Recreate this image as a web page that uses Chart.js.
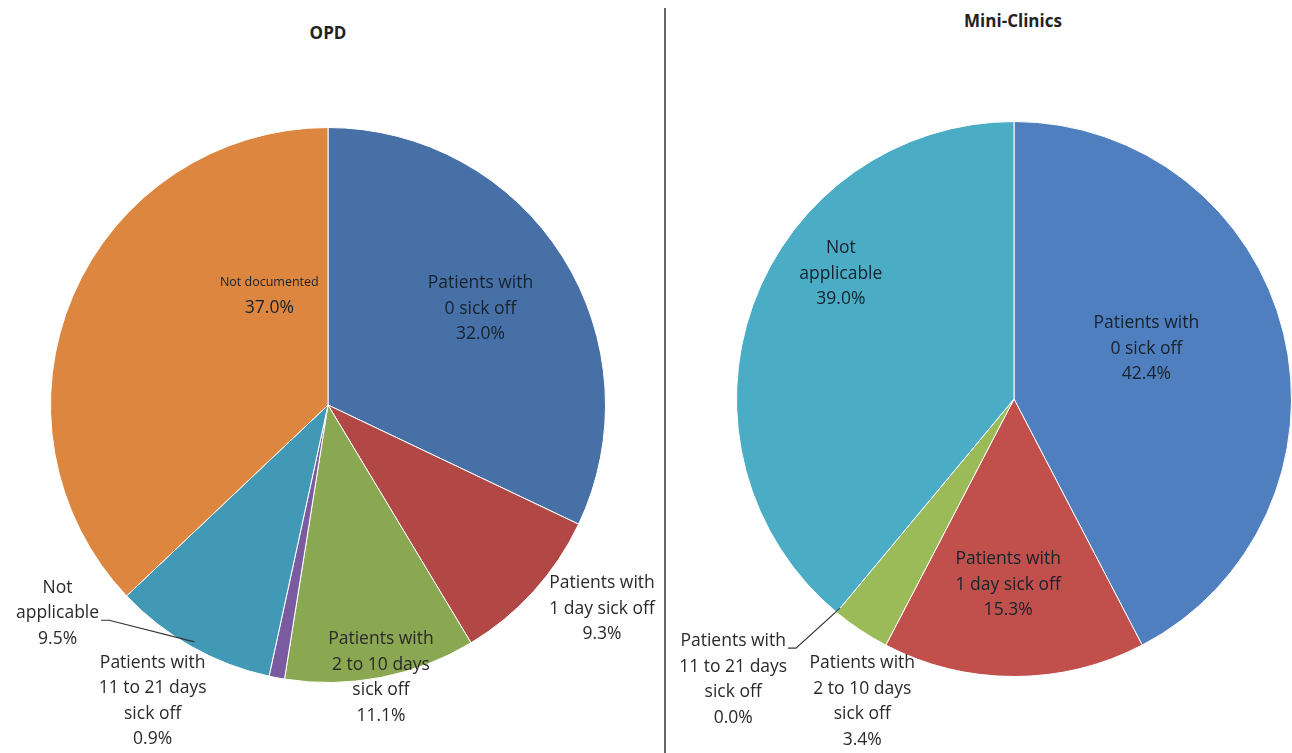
<!DOCTYPE html>
<html>
<head>
<meta charset="utf-8">
<script src="https://cdn.jsdelivr.net/npm/chart.js@4"></script>
<style>
  body { margin: 0; background: #fff; width: 1292px; height: 753px; overflow: hidden; position: relative; font-family: "Open Sans", Lato, sans-serif; }
  .box { position: absolute; top: 0; height: 753px; }
  .title { position: absolute; font-weight: bold; font-size: 17px; color: #222; transform: translateX(-50%); }
  #divider { position: absolute; left: 664px; top: 8px; width: 2px; height: 745px; background: #666; }
</style>
</head>
<body>
<div class="title" style="left:328px; top:21px;">OPD</div>
<div class="title" style="left:1013px; top:9px;">Mini-Clinics</div>
<div id="divider"></div>
<div class="box" style="left:0; width:660px;"><canvas id="opdChart"></canvas></div>
<div class="box" style="left:668px; width:624px;"><canvas id="miniChart"></canvas></div>
<script>
// categories and values
const opdLabels = [
  ['Patients with', '0 sick off'],
  ['Patients with', '1 day sick off'],
  ['Patients with', '2 to 10 days', 'sick off'],
  ['Patients with', '11 to 21 days', 'sick off'],
  ['Not', 'applicable'],
  ['Not documented']
];
const opdValues = [32.0, 9.3, 11.1, 0.9, 9.5, 37.0];
const opdColors = ['#4670a6', '#b24845', '#8aa752', '#7b5b9f', '#4299b5', '#dc8640'];

const miniLabels = [
  ['Patients with', '0 sick off'],
  ['Patients with', '1 day sick off'],
  ['Patients with', '2 to 10 days', 'sick off'],
  ['Patients with', '11 to 21 days', 'sick off'],
  ['Not', 'applicable']
];
const miniValues = [42.4, 15.3, 3.4, 0.0, 39.0];
const miniColors = ['#4f7fbe', '#c1504d', '#9bbb59', '#8064a2', '#4bacc6'];

// label placement: radius factor and angle shift (deg) from slice middle
const opdPlace = [
  { f: 0.65, s: 0 }, { f: 1.23, s: -5.6 }, { f: 1.0, s: 0 },
  { f: 1.24, s: 20 }, { f: 1.23, s: 23, leader: true }, { f: 0.45, s: 38.7, small: true }
];
const miniPlace = [
  { f: 0.51, s: -7 }, { f: 0.67, s: 1.8 }, { f: 1.22, s: -7 },
  { f: 1.43, s: 5.3, leader: true }, { f: 0.77, s: 16 }
];

const FONT = '"Open Sans", Lato, sans-serif';
const LABEL_SIZE = 17.5;

const sliceLabels = {
  id: 'sliceLabels',
  afterDatasetsDraw(chart, args, opts) {
    const ctx = chart.ctx;
    const meta = chart.getDatasetMeta(0);
    const values = chart.data.datasets[0].data;
    meta.data.forEach((arc, i) => {
      const p = opts.place[i];
      const mid = (arc.startAngle + arc.endAngle) / 2;
      const ang = mid + p.s * Math.PI / 180;
      const R = arc.outerRadius;
      const x = arc.x + Math.cos(ang) * R * p.f;
      const y = arc.y + Math.sin(ang) * R * p.f;
      const lines = chart.data.labels[i].slice();
      lines.push(values[i].toFixed(1) + '%');
      const lh = 25.5;
      const top = y - (lines.length - 1) * lh / 2;
      ctx.save();
      ctx.textAlign = 'center';
      ctx.textBaseline = 'middle';
      ctx.fillStyle = p.f < 1 ? '#16222e' : '#2a2a2a';
      lines.forEach((t, k) => {
        let size = LABEL_SIZE;
        if (p.small && k === 0) size = 12.5;
        ctx.font = size + 'px ' + FONT;
        ctx.fillText(t, x, top + k * lh);
      });
      if (p.leader) {
        // line from the end of a text row to the slice edge
        const row = p.f > 1.3 ? 0 : 1;
        ctx.font = LABEL_SIZE + 'px ' + FONT;
        const w = ctx.measureText(lines[row]).width;
        const sx = x + w / 2 + 2;
        const sy = top + row * lh + 7;
        const ex = arc.x + Math.cos(mid) * R * 0.98;
        const ey = arc.y + Math.sin(mid) * R * 0.98;
        ctx.strokeStyle = '#333';
        ctx.lineWidth = 1.2;
        ctx.beginPath();
        ctx.moveTo(sx, sy);
        ctx.lineTo(sx + 8, sy);
        ctx.lineTo(ex, ey);
        ctx.stroke();
      }
      ctx.restore();
    });
  }
};

function makePie(id, labels, values, colors, place, padding) {
  return new Chart(document.getElementById(id), {
    type: 'pie',
    data: {
      labels: labels,
      datasets: [{
        data: values,
        backgroundColor: colors,
        borderColor: '#ffffff',
        borderWidth: 1
      }]
    },
    options: {
      responsive: true,
      maintainAspectRatio: false,
      animation: false,
      layout: { padding: padding },
      plugins: {
        legend: { display: false },
        tooltip: { enabled: false },
        sliceLabels: { place: place }
      }
    },
    plugins: [sliceLabels]
  });
}

makePie('opdChart', opdLabels, opdValues, opdColors, opdPlace,
  { left: 50, right: 54, top: 127, bottom: 70 });
makePie('miniChart', miniLabels, miniValues, miniColors, miniPlace,
  { left: 68, right: 0, top: 121, bottom: 76 });
</script>
</body>
</html>
